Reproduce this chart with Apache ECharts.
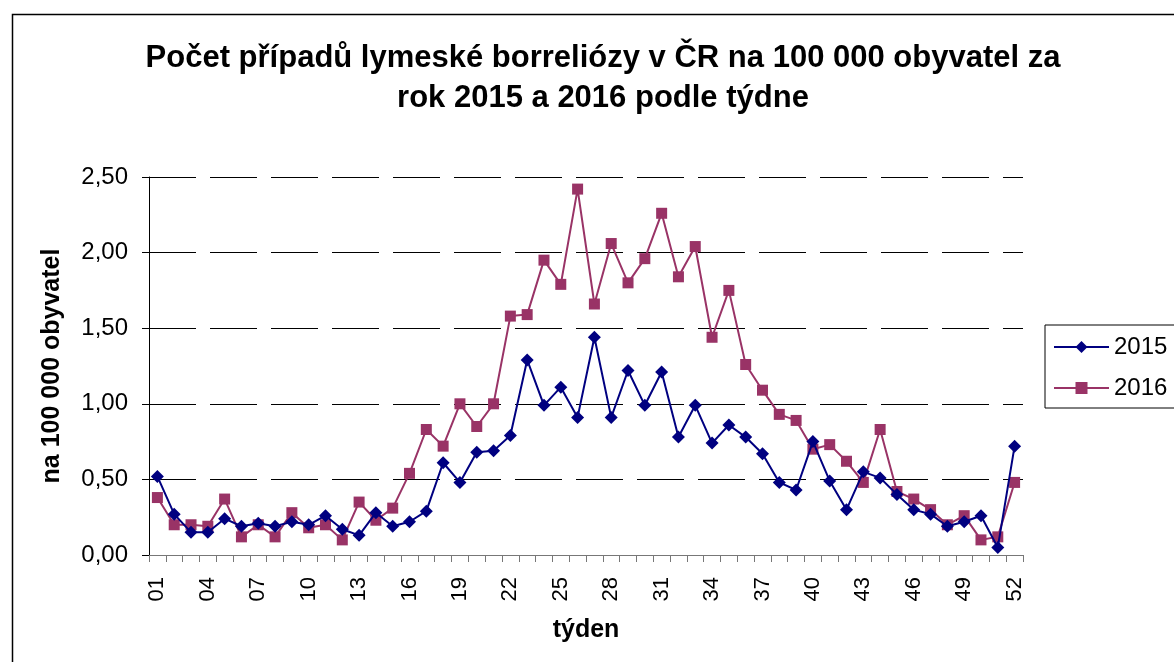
<!DOCTYPE html>
<html>
<head>
<meta charset="utf-8">
<script src="https://cdn.jsdelivr.net/npm/echarts@6/dist/echarts.min.js"></script>
<style>html,body{margin:0;padding:0;background:#fff}#c{width:1174px;height:662px}</style>
</head>
<body>
<div id="c"></div>
<script>
var weeks = ["01","02","03","04","05","06","07","08","09","10","11","12","13","14","15","16","17","18","19","20","21","22","23","24","25","26","27","28","29","30","31","32","33","34","35","36","37","38","39","40","41","42","43","44","45","46","47","48","49","50","51","52"];
var values2015 = [0.52,0.27,0.15,0.15,0.24,0.19,0.21,0.19,0.22,0.20,0.26,0.17,0.13,0.28,0.19,0.22,0.29,0.61,0.48,0.68,0.69,0.79,1.29,0.99,1.11,0.91,1.44,0.91,1.22,0.99,1.21,0.78,0.99,0.74,0.86,0.78,0.67,0.48,0.43,0.75,0.49,0.30,0.55,0.51,0.40,0.30,0.27,0.19,0.22,0.26,0.05,0.72];
var values2016 = [0.38,0.20,0.20,0.19,0.37,0.12,0.20,0.12,0.28,0.18,0.20,0.10,0.35,0.23,0.31,0.54,0.83,0.72,1.00,0.85,1.00,1.58,1.59,1.95,1.79,2.42,1.66,2.06,1.80,1.96,2.26,1.84,2.04,1.44,1.75,1.26,1.09,0.93,0.89,0.70,0.73,0.62,0.48,0.83,0.42,0.37,0.30,0.20,0.26,0.10,0.12,0.48];
var seriesNames = ["2015","2016"];
var titleText = "Počet případů lymeské borreliózy v ČR na 100 000 obyvatel za\nrok 2015 a 2016 podle týdne";
var yAxisName = "na 100 000 obyvatel";
var xAxisName = "týden";

var font = "'Liberation Sans', Arial, sans-serif";
var chart = echarts.init(document.getElementById('c'), null, {renderer: 'canvas'});
chart.setOption({
  animation: false,
  backgroundColor: '#fff',
  textStyle: {fontFamily: font},
  graphic: [{
    type: 'rect', left: 10, top: 12, silent: true,
    shape: {width: 1200, height: 700},
    style: {fill: 'none', stroke: '#000', lineWidth: 1.5}
  }],
  title: {
    text: titleText,
    left: 598, top: 33, textAlign: 'center',
    textStyle: {fontFamily: font, fontSize: 31, fontWeight: 'bold', color: '#000', lineHeight: 40}
  },
  legend: {
    left: 1045, top: 325, orient: 'vertical',
    borderColor: '#000', borderWidth: 1, borderRadius: 0,
    padding: [10, 14, 8, 8],
    itemWidth: 55, itemHeight: 15, itemGap: 17,
    textStyle: {fontFamily: font, fontSize: 24, color: '#000'},
    data: seriesNames
  },
  grid: {left: 149, right: 151, top: 177, bottom: 107, containLabel: false},
  xAxis: {
    type: 'category', data: weeks, boundaryGap: true,
    name: xAxisName, nameLocation: 'middle', nameGap: 63,
    nameTextStyle: {fontFamily: font, fontSize: 25, fontWeight: 'bold', color: '#000'},
    axisLine: {lineStyle: {color: '#777', width: 1}},
    axisTick: {show: true, interval: 0, length: 7, lineStyle: {color: '#777'}},
    axisLabel: {interval: 2, rotate: 90, fontSize: 22, color: '#000', margin: 22, fontFamily: font},
    splitLine: {show: false}
  },
  yAxis: {
    type: 'value', min: 0, max: 2.5, interval: 0.5,
    name: yAxisName, nameLocation: 'middle', nameGap: 84, nameRotate: 90,
    nameTextStyle: {fontFamily: font, fontSize: 25, fontWeight: 'bold', color: '#000'},
    axisLine: {show: true, lineStyle: {color: '#000', width: 1}},
    axisTick: {show: true, length: 7, lineStyle: {color: '#000'}},
    axisLabel: {fontSize: 24, color: '#000', margin: 21, fontFamily: font,
      formatter: function (v) { return v.toFixed(2).replace('.', ','); }},
    splitLine: {show: true, lineStyle: {color: '#000', width: 1, type: [47, 14]}}
  },
  series: [{
    name: seriesNames[0], type: 'line', data: values2015,
    symbol: 'diamond', symbolSize: 13, showAllSymbol: true,
    lineStyle: {color: '#000080', width: 2},
    itemStyle: {color: '#000080'}, z: 3
  }, {
    name: seriesNames[1], type: 'line', data: values2016,
    symbol: 'rect', symbolSize: 11, showAllSymbol: true,
    lineStyle: {color: '#993366', width: 2},
    itemStyle: {color: '#993366'}, z: 2
  }]
});
</script>
</body>
</html>
